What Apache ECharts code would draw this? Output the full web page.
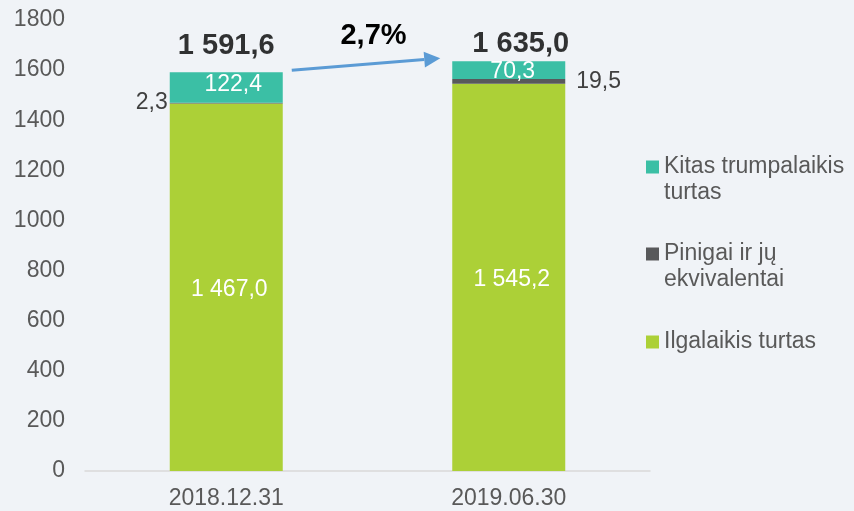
<!DOCTYPE html>
<html>
<head>
<meta charset="utf-8">
<script src="https://cdn.jsdelivr.net/npm/echarts@6/dist/echarts.min.js"></script>
<style>
html,body{margin:0;padding:0;background:#F0F3F7;}
#main{width:854px;height:511px;}
</style>
</head>
<body>
<div id="main"></div>
<script>
const categories = ['2018.12.31', '2019.06.30'];
const ilgalaikis = [1467.0, 1545.2];
const pinigai = [2.3, 19.5];
const kitas = [122.4, 70.3];
const totals = [1591.6, 1635.0];
const growthLabel = '2,7%';
const yMin = 0, yMax = 1800, yStep = 200;
const seriesNames = ['Kitas trumpalaikis\nturtas', 'Pinigai ir jų\nekvivalentai', 'Ilgalaikis turtas'];

const FONT = '"Liberation Sans", Arial, sans-serif';
const C_TEAL = '#3BBFA5', C_GRAY = '#58595B', C_GREEN = '#ACD037';

function fmt(v) {
  const s = v.toFixed(1).split('.');
  const int = s[0].replace(/\B(?=(\d{3})+(?!\d))/g, ' ');
  return int + ',' + s[1];
}

const chart = echarts.init(document.getElementById('main'));

const iconTop = 'path://M0,0L13,0L13,13L0,13Z M0,38.9L0.05,39L0,39Z';
function legend(name, top, twoLine) {
  return {
    data: [{ name: name, icon: twoLine ? iconTop : 'rect' }],
    orient: 'vertical', left: 646, top: top, padding: 0,
    itemWidth: 13, itemHeight: twoLine ? 39 : 13,
    textStyle: { fontFamily: FONT, fontSize: 23, color: '#595959', lineHeight: 26 },
    selectedMode: false
  };
}

const option = {
  backgroundColor: '#F0F3F7',
  animation: false,
  textStyle: { fontFamily: FONT },
  grid: { left: 85, right: 204, top: 20, bottom: 40 },
  legend: [
    legend(seriesNames[0], 154, true),
    legend(seriesNames[1], 241, true),
    legend(seriesNames[2], 329, false)
  ],
  xAxis: {
    type: 'category', data: categories,
    axisLine: { lineStyle: { color: '#D9D9D9', width: 1.5 } },
    axisTick: { show: false },
    axisLabel: { fontFamily: FONT, fontSize: 23, color: '#595959', margin: 16 }
  },
  yAxis: {
    type: 'value', min: yMin, max: yMax, interval: yStep,
    axisLine: { show: false }, axisTick: { show: false }, splitLine: { show: false },
    axisLabel: { fontFamily: FONT, fontSize: 23, color: '#595959', margin: 20,
      formatter: v => String(v) }
  },
  series: [
    {
      name: seriesNames[2], type: 'bar', stack: 'a', barWidth: 113,
      data: ilgalaikis, itemStyle: { color: C_GREEN },
      label: { show: true, position: 'inside', color: '#fff', fontSize: 23, fontFamily: FONT,
        offset: [3, 2], formatter: p => fmt(p.value) }
    },
    {
      name: seriesNames[1], type: 'bar', stack: 'a', barWidth: 113,
      data: pinigai.map((v, i) => ({
        value: v,
        label: i === 0 ? { position: 'left', distance: 2 } : { position: 'right', distance: 11 }
      })),
      itemStyle: { color: C_GRAY },
      label: { show: true, color: '#404040', fontSize: 23, fontFamily: FONT,
        formatter: p => fmt(p.value) }
    },
    {
      name: seriesNames[0], type: 'bar', stack: 'a', barWidth: 113,
      data: kitas.map((v, i) => ({ value: v, label: { offset: i === 0 ? [7, -3] : [4, 2] } })),
      itemStyle: { color: C_TEAL },
      label: { show: true, position: 'inside', color: '#fff', fontSize: 23, fontFamily: FONT,
        formatter: p => fmt(p.value) }
    },
    {
      name: 'total', type: 'scatter', symbolSize: 0,
      data: totals.map((v, i) => ({
        value: v,
        label: i === 0 ? { offset: [0, 0], distance: 12 } : { offset: [12, 0], distance: 3 }
      })),
      itemStyle: { color: 'transparent' },
      label: { show: true, position: 'top', color: '#000', fontSize: 29,
        fontWeight: 'bold', fontFamily: FONT, formatter: p => fmt(p.value) },
      z: 5
    }
  ]
};
chart.setOption(option);

// annotation: growth arrow and percentage
const half = 113 / 2;
const a = chart.convertToPixel({ gridIndex: 0 }, [0, totals[0]]);
const b = chart.convertToPixel({ gridIndex: 0 }, [1, totals[1]]);
const x1 = a[0] + half + 9, y1 = a[1] - 2;
const x2 = b[0] - half - 12, y2 = b[1] - 3;
const ang = Math.atan2(y2 - y1, x2 - x1);
const hl = 16, hw = 8;
const bx = x2 - hl * Math.cos(ang), by = y2 - hl * Math.sin(ang);
const nx = -Math.sin(ang), ny = Math.cos(ang);
const mid = chart.convertToPixel({ gridIndex: 0 }, [0, 1736]);
const mid2 = chart.convertToPixel({ gridIndex: 0 }, [1, 1736]);
chart.setOption({
  graphic: [
    { type: 'line', shape: { x1: x1, y1: y1, x2: bx, y2: by },
      style: { stroke: '#5B9BD5', lineWidth: 3 }, silent: true },
    { type: 'polygon', shape: { points: [[x2, y2], [bx + nx * hw, by + ny * hw], [bx - nx * hw, by - ny * hw]] },
      style: { fill: '#5B9BD5' }, silent: true },
    { type: 'text', x: (mid[0] + mid2[0]) / 2 + 6, y: mid[1],
      style: { text: growthLabel, font: 'bold 29px ' + FONT, fill: '#000', align: 'center', verticalAlign: 'middle' },
      silent: true }
  ]
});
</script>
</body>
</html>
